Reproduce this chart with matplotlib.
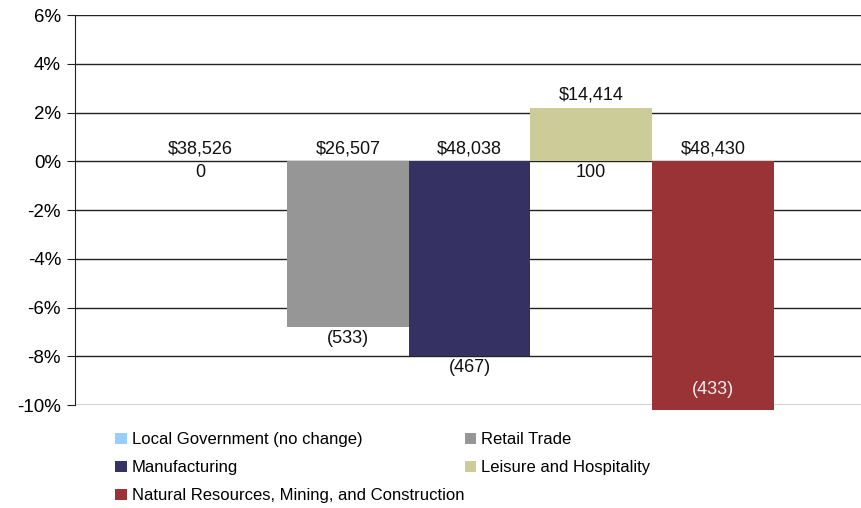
import matplotlib.pyplot as plt
import numpy as np

plt.rcParams['font.family'] = ['Liberation Sans', 'DejaVu Sans']

# Data
industries = ['Local Government (no change)', 'Retail Trade', 'Manufacturing',
              'Leisure and Hospitality', 'Natural Resources, Mining, and Construction']
pct_change = [0.0, -6.8, -8.0, 2.2, -10.2]
avg_wages = ['$38,526', '$26,507', '$48,038', '$14,414', '$48,430']
job_change = ['0', '(533)', '(467)', '100', '(433)']
colors = ['#99CCFF', '#969696', '#363163', '#CCCC99', '#993336']

yticks = [6, 4, 2, 0, -2, -4, -6, -8, -10]

fig = plt.figure(figsize=(8.62, 5.08), dpi=100)
ax = fig.add_axes([75 / 862, 1 - 405 / 508, 1 - 75 / 862, 390 / 508])

x = np.arange(len(industries))
bars = ax.bar(x, pct_change, width=1.0, color=colors, zorder=3, clip_on=False)

ax.set_xlim(-1.242, 5.225)
ax.set_ylim(-10, 6)
ax.set_yticks(yticks)
ax.set_yticklabels(['%d%%' % t for t in yticks], fontsize=13.5)
ax.set_xticks([])
ax.grid(axis='y', color='#222222', linewidth=1, zorder=0)
for s in ['top', 'right', 'bottom']:
    ax.spines[s].set_visible(False)
ax.spines['left'].set_color('#222222')
ax.tick_params(axis='y', length=6, color='#222222', pad=4)

# Data labels: wage above, job change below
for i, v in enumerate(pct_change):
    xc = x[i] - 0.21 if v == 0 else x[i]
    top = max(v, 0)
    bottom = min(v, 0)
    ax.annotate(avg_wages[i], (xc, top), xytext=(0, 3), textcoords='offset points',
                ha='center', va='bottom', fontsize=13, color='#111111')
    if bottom < -10:
        ax.annotate(job_change[i], (xc, -10), xytext=(0, 5), textcoords='offset points',
                    ha='center', va='bottom', fontsize=13, color='#eeeeee')
    else:
        ax.annotate(job_change[i], (xc, bottom), xytext=(0, -2), textcoords='offset points',
                    ha='center', va='top', fontsize=13, color='#111111')

order = [0, 2, 4, 1, 3]
fig.legend([bars[i] for i in order], [industries[i] for i in order],
           loc='upper left', bbox_to_anchor=(107 / 862, 1 - 424 / 508), ncol=2,
           frameon=False, fontsize=12, handlelength=0.7, handleheight=0.7,
           handletextpad=0.3, columnspacing=0.0, labelspacing=0.78, borderpad=0)

fig.savefig('out.png', dpi=100)
